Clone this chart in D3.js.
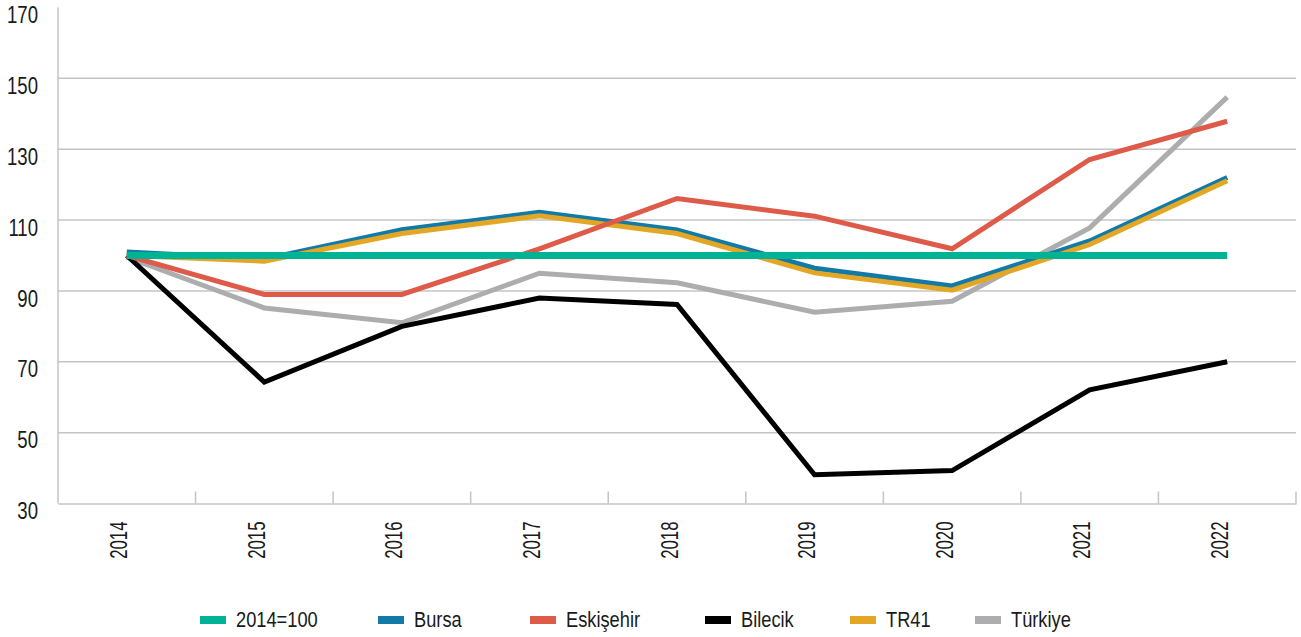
<!DOCTYPE html>
<html>
<head>
<meta charset="utf-8">
<script src="https://cdn.jsdelivr.net/npm/d3@7"></script>
<style>
  body { margin: 0; background: #fff; }
  svg text { font-family: "Liberation Sans", Arial, sans-serif; fill: #1a1a1a; }
</style>
</head>
<body>
<svg id="chart" width="1301" height="637"></svg>
<script>
const years = ["2014", "2015", "2016", "2017", "2018", "2019", "2020", "2021", "2022"];
const yTicks = [30, 50, 70, 90, 110, 130, 150, 170];

const base = [100, 100, 100, 100, 100, 100, 100, 100, 100];
const bursa = [101, 99, 107.3, 112.2, 107.2, 96.4, 91.4, 104.1, 122];
const eskisehir = [100, 89, 89, 101.9, 116.1, 111.1, 101.9, 127.1, 137.9];
const bilecik = [100, 64.3, 80, 88, 86.2, 38.1, 39.3, 62.1, 70];
const tr41 = [100, 98.4, 106.2, 111.2, 106.2, 95.1, 90.2, 103.1, 121.1];
const turkiye = [99.5, 85.2, 81, 95, 92.3, 84, 87.1, 107.8, 144.7];

const legendNames = ["2014=100", "Bursa", "Eskişehir", "Bilecik", "TR41", "Türkiye"];
const colors = {
  "2014=100": "#00b394",
  "Bursa": "#127aa6",
  "Eskişehir": "#df5b49",
  "Bilecik": "#000000",
  "TR41": "#e3a725",
  "Türkiye": "#adadb0"
};

// drawing order: grey at the bottom, the 100 baseline on top
const series = [
  { name: "Türkiye", values: turkiye, width: 5 },
  { name: "Bilecik", values: bilecik, width: 5 },
  { name: "Bursa", values: bursa, width: 5 },
  { name: "TR41", values: tr41, width: 5 },
  { name: "Eskişehir", values: eskisehir, width: 5 },
  { name: "2014=100", values: base, width: 7 }
];

const svg = d3.select("#chart");
const margin = { top: 7.5, right: 5, bottom: 133.5, left: 58 };
const width = 1301, height = 637;

const x = d3.scaleBand()
  .domain(years)
  .range([margin.left, width - margin.right]);

const y = d3.scaleLinear()
  .domain([30, 170])
  .range([height - margin.bottom, margin.top]);

const gridColor = "#c4c4c4";

// horizontal grid (no line at 170)
svg.append("g")
  .selectAll("line")
  .data(yTicks.filter(d => d > 30 && d < 170))
  .join("line")
  .attr("x1", margin.left)
  .attr("x2", width - margin.right)
  .attr("y1", d => y(d))
  .attr("y2", d => y(d))
  .attr("stroke", gridColor)
  .attr("stroke-width", 1.5);

// left axis line
svg.append("line")
  .attr("x1", margin.left).attr("x2", margin.left)
  .attr("y1", y(170)).attr("y2", y(30))
  .attr("stroke", gridColor)
  .attr("stroke-width", 1.5);

// y labels (condensed)
svg.append("g")
  .selectAll("text")
  .data(yTicks)
  .join("text")
  .attr("transform", d => `translate(38,${y(d) + 9.5}) scale(0.79,1)`)
  .attr("text-anchor", "end")
  .attr("dominant-baseline", "middle")
  .attr("font-size", "23.5px")
  .text(d => d);

// bottom axis
const xAxis = svg.append("g")
  .attr("transform", `translate(0,${y(30)})`)
  .call(d3.axisBottom(x).tickSize(0).tickFormat(""));
xAxis.select(".domain").attr("stroke", gridColor).attr("stroke-width", 1.5);

// tick marks between categories
svg.append("g")
  .selectAll("line")
  .data(years.slice(1).concat(["end"]))
  .join("line")
  .attr("x1", d => d === "end" ? width - margin.right : x(d))
  .attr("x2", d => d === "end" ? width - margin.right : x(d))
  .attr("y1", y(30))
  .attr("y2", y(30) - 12)
  .attr("stroke", gridColor)
  .attr("stroke-width", 1.5);

// rotated year labels
svg.append("g")
  .selectAll("text")
  .data(years)
  .join("text")
  .attr("transform", d => `translate(${x(d) + x.bandwidth() / 2 + 0.5},${y(30) + 18}) rotate(-90) scale(0.7,1)`)
  .attr("text-anchor", "end")
  .attr("font-size", "24px")
  .text(d => d);

// lines
const line = d3.line()
  .x((d, i) => x(years[i]) + x.bandwidth() / 2)
  .y(d => y(d));

svg.append("g")
  .selectAll("path")
  .data(series)
  .join("path")
  .attr("fill", "none")
  .attr("stroke", d => colors[d.name])
  .attr("stroke-width", d => d.width)
  .attr("stroke-linejoin", "miter")
  .attr("d", d => line(d.values));

// legend
const legendX = [200, 378, 530, 705, 850, 975];
const legend = svg.append("g")
  .selectAll("g")
  .data(legendNames)
  .join("g")
  .attr("transform", (d, i) => `translate(${legendX[i]},620)`);

legend.append("rect")
  .attr("x", 0)
  .attr("y", -4)
  .attr("width", 26)
  .attr("height", 8)
  .attr("fill", d => colors[d]);

legend.append("text")
  .attr("transform", "translate(36,1) scale(0.83,1)")
  .attr("dominant-baseline", "middle")
  .attr("font-size", "22px")
  .text(d => d);
</script>
</body>
</html>
